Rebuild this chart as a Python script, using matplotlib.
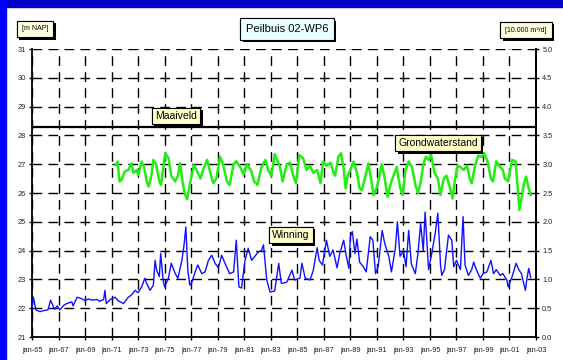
import matplotlib
matplotlib.use("Agg")
import matplotlib.pyplot as plt
import matplotlib.patheffects as pe
from matplotlib.patches import Rectangle

# Pumping volume (10.000 m3/d), right axis
winning_jaar = [
    1965.0, 1965.1, 1965.3, 1965.6, 1965.9, 1966.2, 1966.4, 1966.7, 1966.9, 1967.1,
    1967.4, 1967.6, 1968.0, 1968.1, 1968.4, 1968.7, 1969.0, 1969.25, 1969.5, 1969.9,
    1970.1, 1970.4, 1970.5, 1970.6, 1970.9, 1971.26, 1971.5, 1971.9, 1972.26, 1972.5,
    1972.77, 1973.0, 1973.27, 1973.5, 1973.65, 1973.9, 1974.15, 1974.28, 1974.4, 1974.6,
    1974.7, 1974.9, 1975.0, 1975.28, 1975.5, 1975.8, 1976.0, 1976.3, 1976.45, 1976.6,
    1976.75, 1976.9, 1977.05, 1977.3, 1977.5, 1977.8, 1978.05, 1978.3, 1978.55, 1978.8,
    1979.05, 1979.3, 1979.55, 1979.9, 1980.2, 1980.4, 1980.6, 1980.8, 1981.06, 1981.3,
    1981.56, 1981.8, 1982.07, 1982.3, 1982.45, 1982.7, 1982.95, 1983.3, 1983.6, 1983.8,
    1984.2, 1984.6, 1984.8, 1985.2, 1985.35, 1985.6, 1985.96, 1986.2, 1986.5, 1986.65,
    1986.9, 1987.2, 1987.45, 1987.7, 1988.0, 1988.2, 1988.5, 1988.7, 1988.9, 1989.0,
    1989.15, 1989.35, 1989.5, 1989.7, 1989.98, 1990.2, 1990.5, 1990.7, 1990.9, 1991.1,
    1991.4, 1991.6, 1991.9, 1992.1, 1992.4, 1992.55, 1992.75, 1993.0, 1993.2, 1993.4,
    1993.6, 1993.9, 1994.1, 1994.3, 1994.5, 1994.64, 1994.9, 1995.1, 1995.4, 1995.6,
    1995.8, 1995.9, 1996.1, 1996.4, 1996.65, 1996.8, 1997.0, 1997.3, 1997.5, 1997.65,
    1997.9, 1998.15, 1998.3, 1998.5, 1998.8, 1999.0, 1999.3, 1999.6, 1999.8, 2000.0,
    2000.3, 2000.5, 2000.8, 2000.9, 2001.2, 2001.5, 2001.7, 2001.9, 2002.2, 2002.3,
    2002.45, 2002.6,
]
winning = [
    0.50, 0.69, 0.47, 0.44, 0.46, 0.47, 0.64, 0.48, 0.54, 0.47,
    0.55, 0.58, 0.61, 0.54, 0.69, 0.67, 0.63, 0.66, 0.64, 0.65,
    0.62, 0.65, 0.81, 0.58, 0.65, 0.69, 0.63, 0.58, 0.69, 0.73,
    0.81, 0.77, 0.87, 1.02, 0.93, 0.81, 0.90, 1.33, 1.16, 1.05,
    1.45, 0.96, 0.87, 1.02, 1.28, 1.10, 1.02, 1.33, 1.57, 1.91,
    1.15, 0.90, 0.95, 1.13, 1.25, 1.10, 1.13, 1.33, 1.42, 1.28,
    1.20, 1.42, 1.28, 1.10, 1.13, 1.68, 0.87, 0.85, 1.33, 1.54,
    1.33, 1.40, 1.48, 1.50, 1.60, 0.99, 0.78, 0.80, 1.28, 0.93,
    0.95, 1.16, 0.99, 1.02, 1.28, 1.02, 0.99, 1.15, 1.55, 1.33,
    1.25, 1.68, 1.40, 1.51, 1.20, 1.45, 1.68, 1.40, 1.19, 1.74,
    1.83, 1.45, 1.70, 1.30, 1.22, 1.13, 1.74, 1.68, 1.10, 1.22,
    1.85, 1.62, 1.40, 1.13, 1.55, 2.00, 1.40, 1.50, 1.22, 1.85,
    1.27, 1.10, 1.45, 1.97, 1.50, 2.17, 1.17, 1.40, 1.80, 2.15,
    1.25, 1.07, 1.17, 1.77, 1.68, 1.22, 1.33, 1.17, 2.09, 1.25,
    1.07, 1.17, 1.30, 1.17, 1.02, 1.10, 1.13, 1.33, 1.10, 1.17,
    1.07, 1.10, 0.99, 0.87, 1.05, 1.28, 1.17, 1.10, 0.81, 0.99,
    1.19, 1.03,
]

# Groundwater level (m NAP), left axis
grondwater_jaar = [
    1971.3, 1971.45, 1971.6, 1971.75, 1972.0, 1972.26, 1972.5, 1972.65, 1972.9, 1973.0,
    1973.27, 1973.45, 1973.65, 1973.8, 1974.0, 1974.15, 1974.35, 1974.6, 1974.73, 1974.9,
    1975.05, 1975.3, 1975.5, 1975.8, 1976.0, 1976.16, 1976.35, 1976.5, 1976.7, 1976.9,
    1977.2, 1977.45, 1977.7, 1977.9, 1978.2, 1978.45, 1978.67, 1978.9, 1979.18, 1979.4,
    1979.7, 1979.9, 1980.2, 1980.4, 1980.7, 1980.95, 1981.2, 1981.5, 1981.75, 1982.0,
    1982.3, 1982.6, 1982.8, 1983.05, 1983.3, 1983.7, 1983.9, 1984.2, 1984.45, 1984.7,
    1984.9, 1985.15, 1985.45, 1985.7, 1985.96, 1986.2, 1986.5, 1986.75, 1986.95, 1987.2,
    1987.5, 1987.75, 1987.85, 1988.1, 1988.3, 1988.5, 1988.65, 1988.8, 1989.0, 1989.24,
    1989.5, 1989.7, 1989.86, 1990.1, 1990.36, 1990.6, 1990.75, 1991.0, 1991.2, 1991.37,
    1991.6, 1991.8, 1992.0, 1992.25, 1992.5, 1992.75, 1992.95, 1993.15, 1993.4, 1993.65,
    1993.9, 1994.1, 1994.3, 1994.5, 1994.7, 1994.9, 1995.1, 1995.35, 1995.6, 1995.8,
    1996.05, 1996.25, 1996.5, 1996.7, 1996.9, 1997.1, 1997.3, 1997.55, 1997.8, 1998.0,
    1998.15, 1998.4, 1998.65, 1998.9, 1999.1, 1999.35, 1999.6, 1999.75, 2000.0, 2000.3,
    2000.5, 2000.65, 2000.9, 2001.2, 2001.45, 2001.6, 2001.75, 2001.9, 2002.1, 2002.25,
    2002.43, 2002.6,
]
grondwater = [
    26.97, 27.09, 26.40, 26.45, 26.75, 26.80, 27.03, 26.70, 26.80, 26.63,
    27.09, 26.90, 26.40, 26.22, 26.60, 27.15, 27.00, 26.40, 26.28, 26.90,
    27.38, 27.20, 26.60, 26.40, 26.60, 27.03, 26.40, 25.99, 25.78, 26.30,
    26.97, 26.75, 26.50, 26.80, 27.15, 26.70, 26.34, 26.50, 27.26, 27.00,
    26.40, 26.28, 27.00, 27.10, 26.90, 26.65, 27.00, 26.80, 26.40, 26.28,
    26.90, 27.15, 26.80, 26.60, 27.35, 26.90, 26.40, 27.00, 27.05, 26.60,
    26.34, 27.32, 27.20, 26.80, 26.95, 26.70, 26.80, 26.34, 27.09, 26.95,
    27.05, 26.70, 26.60, 27.26, 27.38, 26.85, 26.16, 26.60, 26.80, 27.09,
    26.70, 26.16, 26.10, 26.50, 27.03, 26.40, 25.93, 26.20, 26.60, 27.00,
    26.50, 25.87, 26.25, 26.60, 26.90, 26.20, 25.93, 26.80, 27.09, 26.90,
    26.30, 26.00, 26.35, 27.00, 27.26, 27.15, 27.32, 26.70, 26.50, 25.93,
    26.50, 26.60, 26.20, 25.81, 26.50, 26.95, 26.90, 26.80, 26.95, 26.50,
    26.34, 26.95, 27.30, 27.25, 27.38, 27.09, 26.50, 26.40, 27.10, 26.90,
    26.80, 26.50, 26.40, 27.15, 27.10, 26.30, 25.41, 25.80, 26.34, 26.57,
    26.20, 25.93,
]

maaiveld = 28.3

x_ticks = list(range(1965, 2004, 2))
x_labels = ["jan-%02d" % (j % 100) for j in x_ticks]
left_ticks = list(range(21, 32))
right_ticks = [i * 0.5 for i in range(11)]

W, H = 563, 360
fig = plt.figure(figsize=(W / 100, H / 100), dpi=100, facecolor="white")

# blue frame bands
fig.patches.append(Rectangle((0, 1 - 7 / H), 1, 7 / H, transform=fig.transFigure,
                             color="#0000C8", zorder=0))
fig.patches.append(Rectangle((0, 0), 6 / W, 1, transform=fig.transFigure,
                             color="#0000FF", zorder=0))

x0, x1 = 32 / W, 536 / W
y0, y1 = 1 - 337 / H, 1 - 49 / H
ax = fig.add_axes([x0, y0, x1 - x0, y1 - y0])
ax.set_facecolor("white")
ax.set_xlim(1965, 2003)
ax.set_ylim(21, 31)
ax.set_xticks(x_ticks)
ax.set_xticklabels(x_labels)
ax.set_yticks(left_ticks)
ax.grid(True, color="black", linestyle=(0, (7, 4.5)), linewidth=1.0)
ax.set_axisbelow(True)
ax.spines["top"].set_visible(False)
for s in ["left", "bottom", "right"]:
    ax.spines[s].set_linewidth(1.3)
ax.tick_params(axis="both", direction="out", length=2.5, width=1, labelsize=5.3,
               pad=2, colors="black", labelcolor="#222222")
ax.tick_params(axis="x", pad=5)
for lbl in ax.get_xticklabels() + ax.get_yticklabels():
    lbl.set_family("Liberation Sans")

ax.axhline(maaiveld, color="black", linewidth=1.6, zorder=3)
ax.plot(grondwater_jaar, grondwater, color="#22EE11", linewidth=1.8, zorder=4)

ax2 = ax.twinx()
ax2.set_ylim(0, 5)
ax2.set_yticks(right_ticks)
ax2.set_yticklabels(["%.1f" % v for v in right_ticks])
for s in ["top", "left", "bottom"]:
    ax2.spines[s].set_visible(False)
ax2.spines["right"].set_linewidth(1.3)
ax2.tick_params(axis="y", direction="out", length=2.5, width=1, labelsize=5.3,
                pad=2, labelcolor="#222222")
for lbl in ax2.get_yticklabels():
    lbl.set_family("Liberation Sans")
ax2.plot(winning_jaar, winning, color="#1010FF", linewidth=1.0, zorder=4)


def label_box(px, py, text, size, face, pad=0.25):
    t = fig.text(px / W, 1 - py / H, text, ha="center", va="center",
                 fontsize=size, family="Liberation Sans", color="black", zorder=10,
                 bbox=dict(boxstyle="square,pad=%.2f" % pad, facecolor=face,
                           edgecolor="black", linewidth=0.8))
    t.get_bbox_patch().set_path_effects(
        [pe.withSimplePatchShadow(offset=(1.8, -1.8), shadow_rgbFace="black", alpha=1.0),
         pe.Normal()])
    return t


label_box(287, 29, "Peilbuis 02-WP6", 8, "#EAFFFF", pad=0.5)
label_box(35, 29, "[m NAP]", 5, "#FFFFE0", pad=0.7)
label_box(526, 30, "[10.000 m³/d]", 5, "#FFFFE0", pad=0.7)
label_box(176, 116, "Maaiveld", 7.5, "#FFFFCC", pad=0.3)
label_box(438, 143, "Grondwaterstand", 7.5, "#FFFFCC", pad=0.3)
label_box(291, 235, "Winning", 7.5, "#FFFFCC", pad=0.3)

fig.savefig("out.png", dpi=100, facecolor="white")
